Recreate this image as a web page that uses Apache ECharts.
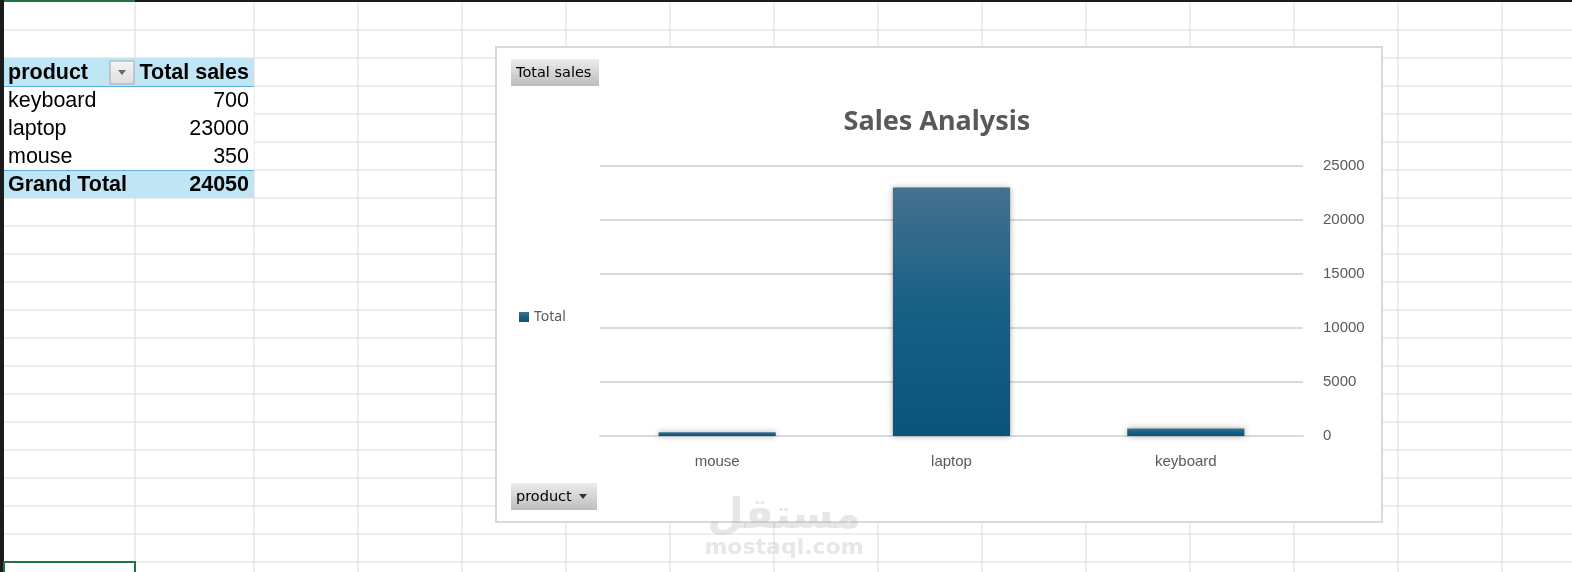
<!DOCTYPE html>
<html>
<head>
<meta charset="utf-8">
<title>Sales Analysis</title>
<script src="https://cdn.jsdelivr.net/npm/echarts@6/dist/echarts.min.js"></script>
<style>
  html, body { margin: 0; padding: 0; background: #fff; }
</style>
</head>
<body>
<div id="main" style="width:1572px;height:572px;"></div>
<script type="text/javascript">
// pivot table data (sheet order)
var products = ['keyboard', 'laptop', 'mouse'];
var sales = [700, 23000, 350];
// order of the categories in the chart
var chartOrder = ['mouse', 'laptop', 'keyboard'];
var yTicks = [0, 5000, 10000, 15000, 20000, 25000];

var chartValues = chartOrder.map(function (p) { return sales[products.indexOf(p)]; });
var grandTotal = sales.reduce(function (a, b) { return a + b; }, 0);

var myChart = echarts.init(document.getElementById('main'));

var cellFont = '21.5px "Liberation Sans", Arial, sans-serif';
var cellBold = 'bold 21.5px "Liberation Sans", Arial, sans-serif';
var gridColor = '#dcdcdc';

// spreadsheet background
var g = [];
var colX = [135, 254, 358];
for (var x = 462; x < 1572; x += 104) colX.push(x);
colX.forEach(function (x) {
    g.push({ type: 'line', z: -5, shape: { x1: x, y1: 2, x2: x, y2: 572 }, style: { stroke: gridColor, lineWidth: 1 } });
});
for (var y = 30; y < 572; y += 28) {
    g.push({ type: 'line', z: -5, shape: { x1: 4, y1: y, x2: 1572, y2: y }, style: { stroke: gridColor, lineWidth: 1 } });
}
// frame edges of the sheet
g.push({ type: 'rect', z: -4, shape: { x: 0, y: 0, width: 1572, height: 2 }, style: { fill: '#1b1b1b' } });
g.push({ type: 'rect', z: -4, shape: { x: 0, y: 0, width: 135, height: 2 }, style: { fill: '#217346' } });
g.push({ type: 'rect', z: -4, shape: { x: 0, y: 0, width: 4, height: 572 }, style: { fill: '#1b1b1b' } });
g.push({ type: 'rect', z: -4, shape: { x: 4, y: 562, width: 131, height: 14 }, style: { fill: 'none', stroke: '#217346', lineWidth: 2 } });

// pivot table
g.push({ type: 'rect', z: -3, shape: { x: 4, y: 58, width: 250, height: 140 }, style: { fill: '#fff' } });
g.push({ type: 'rect', z: -3, shape: { x: 4, y: 58, width: 250, height: 28 }, style: { fill: '#c0e6f5' } });
g.push({ type: 'rect', z: -3, shape: { x: 4, y: 170, width: 250, height: 28 }, style: { fill: '#c0e6f5' } });
g.push({ type: 'line', z: -2, shape: { x1: 4, y1: 86.5, x2: 254, y2: 86.5 }, style: { stroke: '#5aaee2', lineWidth: 1 } });
g.push({ type: 'line', z: -2, shape: { x1: 4, y1: 170.5, x2: 254, y2: 170.5 }, style: { stroke: '#5aaee2', lineWidth: 1 } });
g.push({ type: 'text', z: -1, style: { text: 'product', x: 8, y: 73, font: cellBold, fill: '#000', verticalAlign: 'middle' } });
g.push({ type: 'text', z: -1, style: { text: 'Total sales', x: 249, y: 73, font: cellBold, fill: '#000', align: 'right', verticalAlign: 'middle' } });
// filter button in header
g.push({ type: 'rect', z: -1, shape: { x: 110, y: 61, width: 24, height: 23 },
    style: { fill: new echarts.graphic.LinearGradient(0, 0, 0, 1, [{ offset: 0, color: '#f4f4f4' }, { offset: 1, color: '#dedede' }]), stroke: '#a6a6a6', lineWidth: 1 } });
g.push({ type: 'polygon', z: -1, shape: { points: [[118, 70], [126, 70], [122, 75]] }, style: { fill: '#666' } });
products.forEach(function (p, i) {
    var cy = 101 + i * 28;
    g.push({ type: 'text', z: -1, style: { text: p, x: 8, y: cy, font: cellFont, fill: '#000', verticalAlign: 'middle' } });
    g.push({ type: 'text', z: -1, style: { text: String(sales[i]), x: 249, y: cy, font: cellFont, fill: '#000', align: 'right', verticalAlign: 'middle' } });
});
g.push({ type: 'text', z: -1, style: { text: 'Grand Total', x: 8, y: 185, font: cellBold, fill: '#000', verticalAlign: 'middle' } });
g.push({ type: 'text', z: -1, style: { text: String(grandTotal), x: 249, y: 185, font: cellBold, fill: '#000', align: 'right', verticalAlign: 'middle' } });

// chart box
g.push({ type: 'rect', z: -3, shape: { x: 496, y: 47, width: 886, height: 475 }, style: { fill: '#fff', stroke: '#d9d9d9', lineWidth: 2 } });
var btnFill = new echarts.graphic.LinearGradient(0, 0, 0, 1, [{ offset: 0, color: '#ececec' }, { offset: 1, color: '#bdbdbd' }]);
g.push({ type: 'rect', z: 5, shape: { x: 511, y: 59, width: 88, height: 27 }, style: { fill: btnFill } });
g.push({ type: 'text', z: 6, style: { text: 'Total sales', x: 516, y: 73, font: '14.5px "DejaVu Sans", sans-serif', fill: '#000', verticalAlign: 'middle' } });
g.push({ type: 'rect', z: 5, shape: { x: 511, y: 483, width: 86, height: 27 }, style: { fill: btnFill } });
g.push({ type: 'text', z: 6, style: { text: 'product', x: 516, y: 497, font: '14.5px "DejaVu Sans", sans-serif', fill: '#000', verticalAlign: 'middle' } });
g.push({ type: 'polygon', z: 6, shape: { points: [[579, 494], [587, 494], [583, 499]] }, style: { fill: '#333' } });
g.push({ type: 'text', z: 6, style: { text: 'Sales Analysis', x: 937, y: 122, font: 'bold 27px "Noto Sans", sans-serif', fill: '#595959', align: 'center', verticalAlign: 'middle' } });

// watermark
g.push({ type: 'text', z: 50, style: { text: 'مستقل', x: 784, y: 517, font: 'bold 42px "DejaVu Sans", sans-serif', fill: 'rgba(170,170,170,0.28)', align: 'center', verticalAlign: 'middle' } });
g.push({ type: 'text', z: 50, style: { text: 'mostaql.com', x: 784, y: 548, font: 'bold 22px "DejaVu Sans", sans-serif', fill: 'rgba(170,170,170,0.28)', align: 'center', verticalAlign: 'middle' } });

var axisFont = { color: '#595959', fontSize: 15, fontFamily: '"Liberation Sans", Arial, sans-serif' };

option = {
    animation: false,
    backgroundColor: '#fff',
    graphic: { elements: g },
    legend: {
        data: ['Total'],
        left: 514,
        top: 305,
        orient: 'vertical',
        icon: 'rect',
        itemWidth: 10,
        itemHeight: 10,
        itemGap: 4,
        textStyle: { color: '#595959', fontSize: 14, fontFamily: '"Noto Sans", sans-serif' }
    },
    grid: { left: 600, right: 269, top: 166, bottom: 136, containLabel: false },
    xAxis: {
        type: 'category',
        data: chartOrder,
        axisLine: { lineStyle: { color: '#d9d9d9', width: 2 } },
        axisTick: { show: false },
        axisLabel: Object.assign({ margin: 18 }, axisFont)
    },
    yAxis: {
        type: 'value',
        position: 'right',
        min: yTicks[0],
        max: yTicks[yTicks.length - 1],
        interval: yTicks[1] - yTicks[0],
        axisLine: { show: false },
        axisTick: { show: false },
        splitLine: { lineStyle: { color: '#d9d9d9', width: 2 } },
        axisLabel: Object.assign({ margin: 20, formatter: function (v) { return String(v); } }, axisFont)
    },
    series: [{
        name: 'Total',
        type: 'bar',
        barWidth: '50%',
        data: chartValues,
        itemStyle: {
            color: new echarts.graphic.LinearGradient(0, 0, 0, 1, [
                { offset: 0, color: '#45718f' },
                { offset: 0.5, color: '#165f85' },
                { offset: 1, color: '#0b5479' }
            ]),
            shadowBlur: 6,
            shadowColor: 'rgba(0,0,0,0.35)'
        }
    }]
};

myChart.setOption(option);
</script>
</body>
</html>
